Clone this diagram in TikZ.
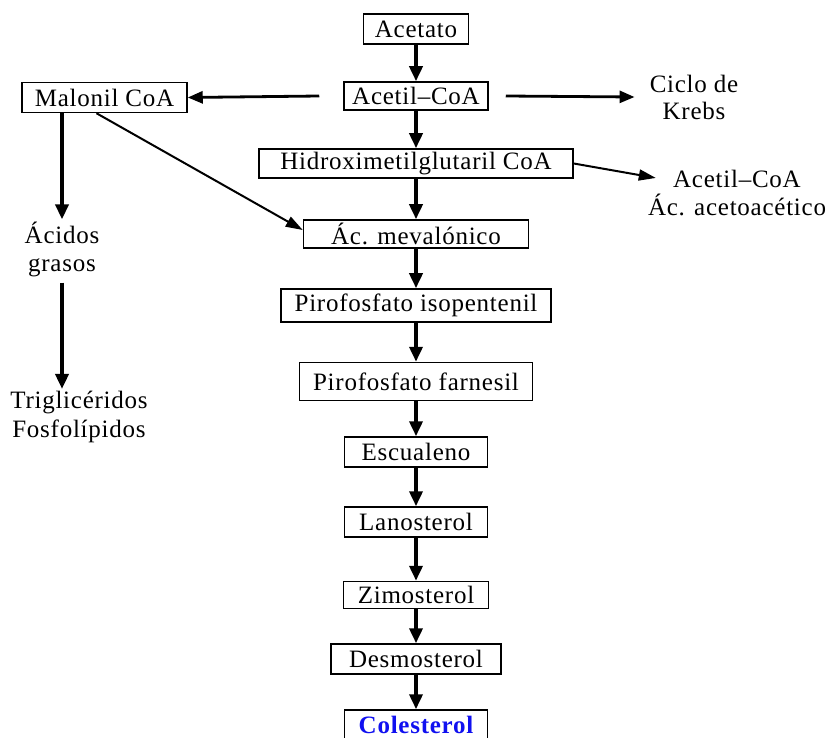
\documentclass[tikz,border=0pt]{standalone}
\usepackage{fontspec}
\setmainfont{Liberation Serif}[LetterSpace=3]
\usetikzlibrary{arrows.meta}
\newcommand{\Col}{416}
\newcommand{\Edge}{1.5pt}
\definecolor{ink}{HTML}{000000}
\definecolor{chol}{HTML}{1010F0}

\tikzset{
  label font/.style={font=\fontsize{25}{27}\selectfont},
  stepbox/.style={draw=ink,line width=\Edge,label font,inner sep=0pt,minimum height=30},
  freetext/.style={label font,align=center,inner sep=2pt},
  flow/.style={line width=3.6pt,-{Triangle[length=15pt,width=13pt]}},
  side/.style={line width=2.8pt,-{Triangle[length=15pt,width=12pt]}},
  slant/.style={line width=2pt,-{Triangle[length=17pt,width=11pt]}},
}

\begin{document}
\begin{tikzpicture}[x=1pt,y=-1pt, line join=miter]
  \useasboundingbox (0,0) rectangle (828,738);

  % ---- the main pathway, one box under the other ------------------------
  \foreach \n/\y/\w/\h/\t in {acetato/29/105/30/Acetato,
                             acetil/96/144/28/Acetil--CoA,
                             hmg/163.5/314/29/Hidroximetilglutaril CoA,
                             meva/234/225/28/Ác. mevalónico,
                             ipp/305.5/270/33/Pirofosfato isopentenil,
                             fpp/381.5/233/38/Pirofosfato farnesil,
                             escualeno/452/143/30/Escualeno,
                             lanosterol/522/143/30/Lanosterol,
                             zimosterol/595/145/27/Zimosterol,
                             desmosterol/659/170/30/Desmosterol} {
    \node[stepbox,minimum width=\w,minimum height=\h] (\n) at (\Col,\y) {\t};
  }
  % The end product, in blue.
  \node[stepbox,minimum width=143,minimum height=30,text=chol,font=\fontsize{25}{27}\selectfont\bfseries]
    (colesterol) at (\Col,725) {Colesterol};

  \foreach \a/\b in {acetato/acetil, acetil/hmg, hmg/meva, meva/ipp, ipp/fpp,
                     fpp/escualeno, escualeno/lanosterol, lanosterol/zimosterol,
                     zimosterol/desmosterol, desmosterol/colesterol}
    \draw[flow] (\a) -- (\b);

  % ---- the side branches -------------------------------------------------
  \node[stepbox,minimum width=165,minimum height=30] (malonil) at (104.5,97.5) {Malonil CoA};
  \node[freetext] (krebs) at (694,97) {Ciclo de\\Krebs};
  \node[freetext] (acetoac) at (737,193) {Acetil--CoA\\[1pt]Ác. acetoacético};
  \node[freetext] (acidos) at (62,249) {Ácidos\\[1pt]grasos};
  \node[freetext] (lipidos) at (79,417) {Triglicéridos\\[2pt]Fosfolípidos};

  \draw[side] ([xshift=-24pt]acetil.west) -- (malonil.east);
  \draw[side] ([xshift=17pt]acetil.east) -- ([xshift=-13pt]krebs.west);
  \draw[slant] (hmg.east) -- ([xshift=10pt,yshift=-10pt]acetoac.north west);
  \draw[slant] ([xshift=-8pt]malonil.south) -- ([yshift=4pt]meva.west);
  \draw[flow] (malonil.south -| acidos.north) -- (acidos.north);
  \draw[flow] ([yshift=-4pt]acidos.south) -- (acidos.south |- lipidos.north);

\end{tikzpicture}
\end{document}
